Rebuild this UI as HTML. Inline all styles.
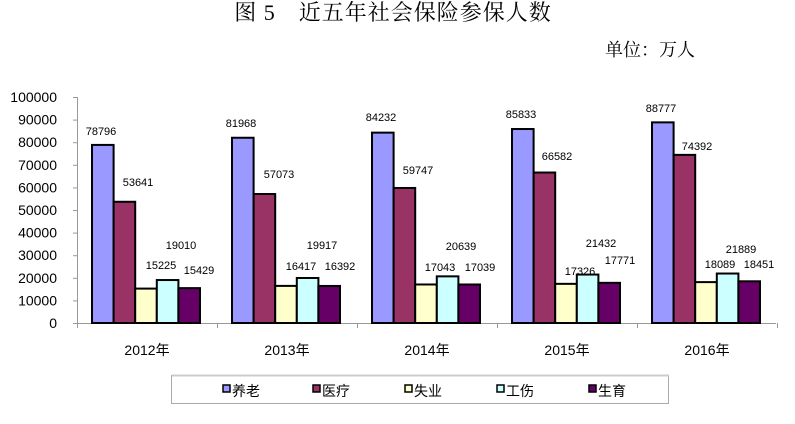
<!DOCTYPE html>
<html><head><meta charset="utf-8"><style>
html,body{margin:0;padding:0;background:#fff;}
svg{display:block;}
text{font-family:"Liberation Sans","Noto Sans CJK SC",sans-serif;}
.t{font-family:"Liberation Serif","Noto Serif CJK SC",serif;}
</style></head><body>
<svg width="795" height="424" viewBox="0 0 795 424" xmlns="http://www.w3.org/2000/svg">
<text class="t" x="393" y="20" font-size="22" text-anchor="middle" fill="#000" letter-spacing="1">图 5　近五年社会保险参保人数</text>
<text class="t" x="650" y="56" font-size="18" text-anchor="middle" fill="#000">单位：万人</text>
<g id="ax" stroke="#999" stroke-width="1">
<line x1="77.5" y1="97" x2="77.5" y2="324"/>
<line x1="77" y1="323.5" x2="776" y2="323.5"/>
</g>
<g id="content"></g>
<rect x="171.5" y="375.5" width="497" height="28" fill="#fff" stroke="#aaa"/>
<line x1="172" y1="375.5" x2="669" y2="375.5" stroke="#ccc" stroke-width="2"/>
<g font-size="14" fill="#000" id="leg"></g>
<script>
const NS="http://www.w3.org/2000/svg";
const c=document.getElementById('content');
const lg=document.getElementById('leg');
function el(t,a,txt,p){const e=document.createElementNS(NS,t);for(const k in a)e.setAttribute(k,a[k]);if(txt!==undefined)e.textContent=txt;(p||c).appendChild(e);return e;}
const y0=323,sc=226/100000;
for(let i=0;i<=10;i++){const y=y0-i*10000*sc;
el('line',{x1:73,x2:77,y1:y+.5,y2:y+.5,stroke:'#999'});
el('text',{x:57,y:y+5,'font-size':14,'text-anchor':'end'},String(i*10000));}
for(let i=0;i<=5;i++){const x=77+i*140;el('line',{x1:x+.5,x2:x+.5,y1:323,y2:328,stroke:'#999'});}
const cols=['#9999FF','#993366','#FFFFCC','#CCFFFF','#660066'];
const data=[[78796,53641,15225,19010,15429],[81968,57073,16417,19917,16392],[84232,59747,17043,20639,17039],[85833,66582,17326,21432,17771],[88777,74392,18089,21889,18451]];
const lab=[[[101,131],[138,182],[161,265],[181,245],[199,270]],[[241,123],[279,174],[301,266],[322,245],[340,266]],[[381,117],[418,170],[440,267],[461,246],[480,267]],[[521,114],[557,156],[580,271],[601,243],[620,260]],[[661,108],[697,146],[720,264],[741,249],[759,264]]];
const ylab=['2012年','2013年','2014年','2015年','2016年'];
for(let g=0;g<5;g++){const gx=77+g*140+15;
for(let s=0;s<5;s++){const v=data[g][s],h=v*sc,x=gx+s*21.6;
el('rect',{x:x,y:y0-h,width:21.6,height:h,fill:cols[s],stroke:'#000','stroke-width':2});
el('text',{x:lab[g][s][0],y:lab[g][s][1]+4,'font-size':11,'text-anchor':'middle'},String(v));}
el('text',{x:77+g*140+70,y:355,'font-size':14,'text-anchor':'middle'},ylab[g]);}
const names=['养老','医疗','失业','工伤','生育'];
const lx=[223,313,405,497,589];
for(let s=0;s<5;s++){el('rect',{x:lx[s],y:385,width:7,height:7,fill:cols[s],stroke:'#000','stroke-width':1.5},undefined,lg);
el('text',{x:lx[s]+9,y:396,'font-size':14},names[s],lg);}
</script>
</svg>
</body></html>
